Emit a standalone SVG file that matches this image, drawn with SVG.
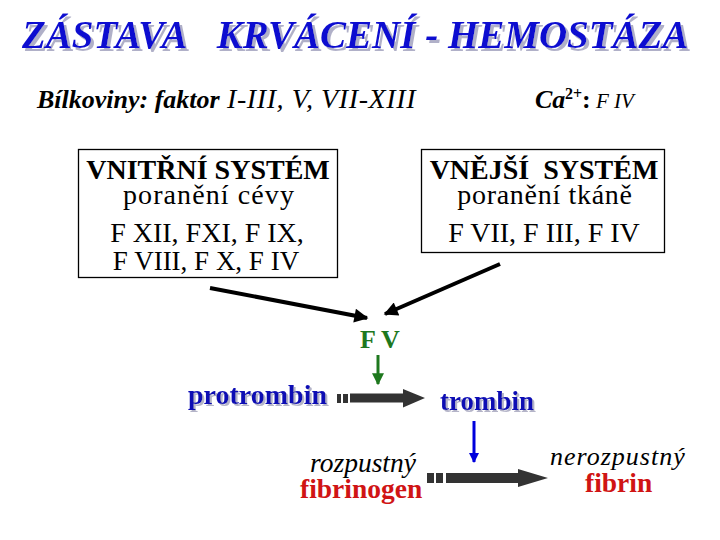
<svg xmlns="http://www.w3.org/2000/svg" width="720" height="540" viewBox="0 0 720 540">
<defs>
<filter id="sh" x="-5%" y="-20%" width="110%" height="150%">
<feFlood flood-color="#b0b0c8" result="c"/>
<feComposite in="c" in2="SourceAlpha" operator="in" result="s"/>
<feOffset in="s" dx="3" dy="3" result="o"/>
<feMerge><feMergeNode in="o"/><feMergeNode in="SourceGraphic"/></feMerge>
</filter>
<filter id="sh2" x="-5%" y="-20%" width="110%" height="150%">
<feFlood flood-color="#b4b4c8" result="c"/>
<feComposite in="c" in2="SourceAlpha" operator="in" result="s"/>
<feOffset in="s" dx="2" dy="2" result="o"/>
<feMerge><feMergeNode in="o"/><feMergeNode in="SourceGraphic"/></feMerge>
</filter>
<marker id="mk" viewBox="0 0 10 10" refX="9" refY="5" markerUnits="userSpaceOnUse" markerWidth="16" markerHeight="14" orient="auto">
<path d="M0,0 L10,5 L0,10 z" fill="#000"/>
</marker>
<marker id="mkg" viewBox="0 0 10 10" refX="9" refY="5" markerUnits="userSpaceOnUse" markerWidth="12" markerHeight="12" orient="auto">
<path d="M0,0 L10,5 L0,10 z" fill="#1e781e"/>
</marker>
<marker id="mkb" viewBox="0 0 10 10" refX="9" refY="5" markerUnits="userSpaceOnUse" markerWidth="12" markerHeight="10" orient="auto">
<path d="M0,0 L10,5 L0,10 z" fill="#0000dd"/>
</marker>
</defs>
<rect width="720" height="540" fill="#ffffff"/>

<g id="title">
<text font-family="Liberation Serif" font-size="39" font-weight="bold" font-style="italic" x="22" y="48" fill="#1010d0" filter="url(#sh)">ZÁSTAVA&#160;&#160; KRVÁCENÍ - HEMOSTÁZA</text>
</g>

<g id="proteins">
<text font-family="Liberation Serif" x="37" y="108" font-size="26" font-weight="bold" font-style="italic">Bílkoviny: faktor</text>
<text font-family="Liberation Serif" x="227" y="108" font-size="28" font-style="italic" letter-spacing="0.6">I-III, V, VII-XIII</text>
</g>

<g id="calcium">
<text font-family="Liberation Serif" y="108"><tspan x="535" font-size="26" font-weight="bold" font-style="italic">Ca</tspan><tspan x="565" y="99" font-size="16" font-weight="bold">2+</tspan><tspan x="582" y="108" font-size="26" font-weight="bold">:</tspan><tspan x="596" font-size="21" font-style="italic">F IV</tspan></text>
</g>

<g id="intrinsic">
<rect x="78.5" y="149.5" width="259" height="128" fill="#fff" stroke="#000" stroke-width="1.3"/>
<text font-family="Liberation Serif" font-size="28" text-anchor="middle" font-weight="bold" x="208" y="179">VNITŘNÍ SYSTÉM</text>
<text font-family="Liberation Serif" font-size="28" text-anchor="middle" letter-spacing="1.1" x="209" y="204">poranění cévy</text>
<text font-family="Liberation Serif" font-size="28" text-anchor="middle" x="207" y="242">F XII, FXI, F IX,</text>
<text font-family="Liberation Serif" font-size="27" text-anchor="middle" x="206" y="270">F VIII, F X, F IV</text>
</g>

<g id="extrinsic">
<rect x="421.5" y="149.5" width="243" height="103" fill="#fff" stroke="#000" stroke-width="1.3"/>
<text font-family="Liberation Serif" font-size="28" text-anchor="middle" font-weight="bold" x="544" y="179">VNĚJŠÍ&#160; SYSTÉM</text>
<text font-family="Liberation Serif" font-size="28" text-anchor="middle" letter-spacing="0.7" x="545" y="204">poranění tkáně</text>
<text font-family="Liberation Serif" font-size="28" text-anchor="middle" x="544" y="242">F VII, F III, F IV</text>
</g>

<g id="fv">
<text font-family="Liberation Serif" x="360" y="348" font-size="26" font-weight="bold" fill="#1e781e">F V</text>
</g>

<g id="protrombin">
<text font-family="Liberation Serif" x="188" y="404" font-size="28" font-weight="bold" fill="#0a0ab4" filter="url(#sh2)">protrombin</text>
</g>

<g id="trombin">
<text font-family="Liberation Serif" x="440" y="410" font-size="27" font-weight="bold" fill="#0a0ab4" filter="url(#sh2)">trombin</text>
</g>

<g id="fibrinogen">
<text font-family="Liberation Serif" x="310" y="472" font-size="27.5" font-style="italic">rozpustný</text>
<text font-family="Liberation Serif" x="300" y="498" font-size="27.5" font-weight="bold" fill="#d01414">fibrinogen</text>
</g>

<g id="fibrin">
<text font-family="Liberation Serif" x="550" y="465" font-size="26" font-style="italic" letter-spacing="1">nerozpustný</text>
<text font-family="Liberation Serif" x="585" y="492" font-size="27.5" font-weight="bold" fill="#d01414">fibrin</text>
</g>

<g id="connectors">
<line x1="210" y1="288" x2="367" y2="318" stroke="#000" stroke-width="4" marker-end="url(#mk)"/>
<line x1="500" y1="264" x2="385" y2="314" stroke="#000" stroke-width="4" marker-end="url(#mk)"/>
<line x1="378" y1="355" x2="378" y2="384" stroke="#1e781e" stroke-width="3" marker-end="url(#mkg)"/>
<line x1="474" y1="421" x2="474" y2="462" stroke="#0000dd" stroke-width="3" marker-end="url(#mkb)"/>
<g fill="#333333">
<rect x="337" y="394" width="4" height="9"/>
<rect x="343" y="394" width="5" height="9"/>
<path d="M350,393.5 L403,393.5 L403,389 L425,398 L403,407.5 L403,402.5 L350,402.5 z"/>
<rect x="427" y="473" width="7" height="10"/>
<rect x="436" y="473" width="7" height="10"/>
<path d="M446,473 L518,473 L518,469 L548,478 L518,487 L518,483 L446,483 z"/>
</g>
</g>
</svg>
